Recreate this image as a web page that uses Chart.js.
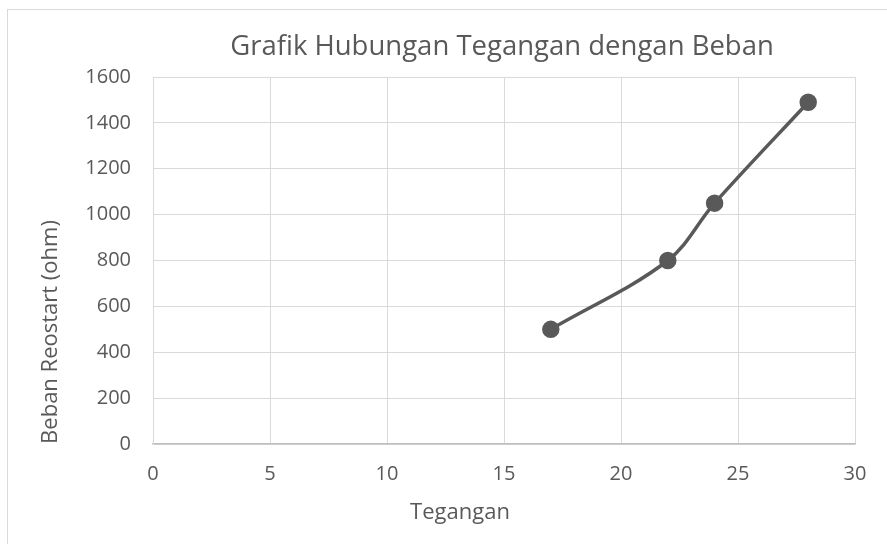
<!DOCTYPE html>
<html>
<head>
<meta charset="utf-8">
<script src="https://cdn.jsdelivr.net/npm/chart.js@4.4.1/dist/chart.umd.min.js"></script>
<style>
  html, body { margin: 0; padding: 0; background: #fff; }
  #wrap { position: relative; width: 887px; height: 544px; overflow: hidden; }
  #frame { position: absolute; left: 7px; top: 9px; width: 900px; height: 560px; border: 1px solid #d9d9d9; box-sizing: border-box; }
  canvas { position: absolute; left: 0; top: 0; }
</style>
</head>
<body>
<div id="wrap">
  <div id="frame"></div>
  <canvas id="chart" width="887" height="544"></canvas>
</div>
<script>
// data grafik
const tegangan = [17, 22, 24, 28];
const beban = [500, 800, 1050, 1490];

const chartTitle = 'Grafik Hubungan Tegangan dengan Beban';
const xTitle = 'Tegangan';
const yTitle = 'Beban Reostart (ohm)';

const FONT = '"Open Sans", sans-serif';
const TEXT = '#595959';

// judul + judul sumbu digambar manual supaya posisinya sama dengan gambar Excel
const textPlugin = {
  id: 'textPlugin',
  afterDraw(chart) {
    const ctx = chart.ctx;
    ctx.save();
    ctx.fillStyle = TEXT;
    ctx.textAlign = 'center';
    ctx.textBaseline = 'middle';

    ctx.font = '27.5px ' + FONT;
    ctx.fillText(chartTitle, 502, 47);

    ctx.font = '22px ' + FONT;
    ctx.fillText(xTitle, 460, 513);

    ctx.translate(51, 332);
    ctx.rotate(-Math.PI / 2);
    ctx.fillText(yTitle, 0, 0);
    ctx.restore();
  }
};

new Chart(document.getElementById('chart'), {
  type: 'scatter',
  data: {
    datasets: [{
      data: tegangan.map((x, i) => ({ x, y: beban[i] })),
      showLine: true,
      tension: 0.35,
      borderColor: '#595959',
      backgroundColor: '#595959',
      borderWidth: 3.5,
      pointRadius: 7,
      pointHoverRadius: 7
    }]
  },
  options: {
    responsive: false,
    animation: false,
    layout: { padding: { top: 77, right: 32, left: 0, bottom: 0 } },
    plugins: { legend: { display: false }, title: { display: false }, tooltip: { enabled: false } },
    scales: {
      x: {
        type: 'linear', min: 0, max: 30,
        ticks: { stepSize: 5, color: TEXT, font: { family: FONT, size: 20 }, padding: 18 },
        grid: { color: '#d9d9d9', drawTicks: false },
        border: { color: '#bfbfbf', width: 1.5 },
        afterFit(s) { s.height = 100; }
      },
      y: {
        min: 0, max: 1600,
        ticks: { stepSize: 200, color: TEXT, font: { family: FONT, size: 20 }, padding: 22,
          callback: v => String(v) },
        grid: { color: '#d9d9d9', drawTicks: false },
        border: { color: '#d9d9d9' },
        afterFit(s) { s.width = 153; }
      }
    }
  },
  plugins: [textPlugin]
});
</script>
</body>
</html>
